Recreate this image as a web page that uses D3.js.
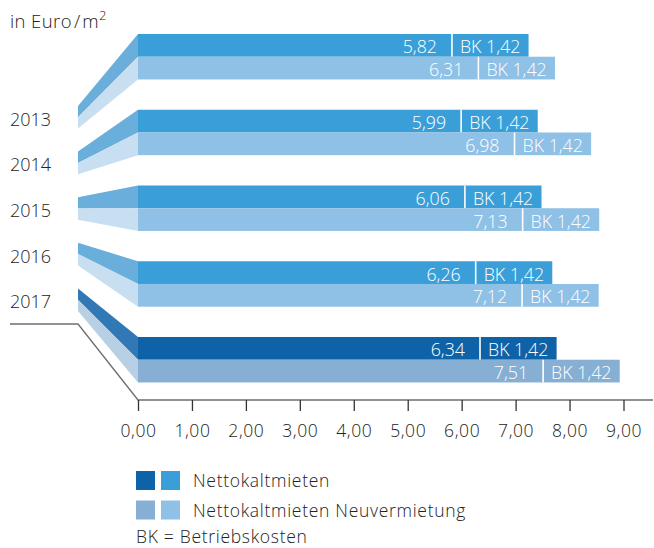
<!DOCTYPE html>
<html>
<head>
<meta charset="utf-8">
<script src="https://cdn.jsdelivr.net/npm/d3@7"></script>
<style>
  html, body { margin: 0; padding: 0; background: #fff; }
  svg { display: block; font-family: "Open Sans", sans-serif; font-weight: 300; }
</style>
</head>
<body>
<svg id="chart" width="654" height="548"></svg>
<script>
const years = ["2013", "2014", "2015", "2016", "2017"];
const netto = [5.82, 5.99, 6.06, 6.26, 6.34];
const neuvermietung = [6.31, 6.98, 7.13, 7.12, 7.51];
const bk = [1.42, 1.42, 1.42, 1.42, 1.42];
const tickValues = [0, 1, 2, 3, 4, 5, 6, 7, 8, 9];
const legendLabels = ["Nettokaltmieten", "Nettokaltmieten Neuvermietung"];

const colors = {
  bar1: "#3a9fd8", bar2: "#8fc0e6", conn1: "#6aaedc", conn2: "#c8dff2",
  hBar1: "#0e63a8", hBar2: "#86afd3", hConn1: "#3079b6", hConn2: "#b7d0e5"
};
const fmt = v => d3.format(".2f")(v).replace(".", ",");
const FONT = "'Open Sans', sans-serif";

const svg = d3.select("#chart");
const x = d3.scaleLinear().domain([0, 9]).range([138, 623.5]);
const y = d3.scaleBand().domain(years).range([34, 382.45]).paddingInner(0.4).paddingOuter(0);
const yl = d3.scaleBand().domain(years).range([106, 311]).paddingInner(0.504).paddingOuter(0);
const bh = y.bandwidth() / 2;
const lh = yl.bandwidth() / 2;
const connX = 78;

// year labels
svg.append("g").selectAll("text").data(years).join("text")
  .attr("x", 10).attr("y", d => yl(d) + lh + 8.5)
  .attr("font-size", 18).attr("fill", "#222").text(d => d);

// unit label
const unit = svg.append("text").attr("x", 10).attr("y", 28).attr("font-size", 18.5)
  .attr("letter-spacing", 0.4).attr("fill", "#222");
unit.append("tspan").text("in Euro");
unit.append("tspan").attr("dx", 2).text("/");
unit.append("tspan").attr("dx", 1.5).text("m");
unit.append("tspan").attr("font-size", 13).attr("dy", -8).text("2");

// baseline / axis guide line
svg.append("path")
  .attr("d", `M10,324 L${connX},324 L${x(0)},400 L653,400`)
  .attr("fill", "none").attr("stroke", "#6e6e6e").attr("stroke-width", 1.3);

const groups = svg.append("g").selectAll("g").data(years).join("g");

groups.each(function(yr, i) {
  const g = d3.select(this);
  const hi = i === years.length - 1;
  const c1 = hi ? colors.hBar1 : colors.bar1, c2 = hi ? colors.hBar2 : colors.bar2;
  const k1 = hi ? colors.hConn1 : colors.conn1, k2 = hi ? colors.hConn2 : colors.conn2;
  const bt = y(yr), lt = yl(yr), x0 = x(0);
  // connectors
  g.append("path").attr("fill", k1)
    .attr("d", `M${connX},${lt} L${x0},${bt} L${x0},${bt + bh} L${connX},${lt + lh} Z`);
  g.append("path").attr("fill", k2)
    .attr("d", `M${connX},${lt + lh} L${x0},${bt + bh} L${x0},${bt + 2 * bh} L${connX},${lt + 2 * lh} Z`);
  const rows = [
    { v: netto[i], b: bk[i], top: bt, c: c1 },
    { v: neuvermietung[i], b: bk[i], top: bt + bh, c: c2 }
  ];
  rows.forEach(r => {
    g.append("rect").attr("x", x0).attr("y", r.top).attr("width", x(r.v + r.b) - x0)
      .attr("height", bh).attr("fill", r.c);
    g.append("line").attr("x1", x(r.v)).attr("x2", x(r.v)).attr("y1", r.top).attr("y2", r.top + bh)
      .attr("stroke", "#fff").attr("stroke-width", 1.6);
    g.append("text").attr("x", x(r.v) - 15).attr("y", r.top + 19.3)
      .attr("text-anchor", "end").attr("font-size", 17.8)
      .attr("fill", "#fff").text(fmt(r.v));
    g.append("text").attr("x", x(r.v) + 8).attr("y", r.top + 19.3)
      .attr("font-size", 17.8).attr("fill", "#fff").text("BK " + fmt(r.b));
  });
});

// axis
const axis = d3.axisBottom(x).tickValues(tickValues).tickFormat(fmt).tickSize(11).tickPadding(14);
const ag = svg.append("g").attr("transform", "translate(0,400)").call(axis);
ag.select(".domain").remove();
ag.selectAll(".tick line").attr("stroke", "#333").attr("stroke-width", 1.3);
ag.selectAll(".tick text").attr("font-size", 17.5).attr("letter-spacing", 0.6).attr("fill", "#222")
  .attr("font-family", FONT).attr("font-weight", 300);

// legend
const leg = svg.append("g");
const legendColors = [[colors.hBar1, colors.bar1], [colors.hBar2, colors.bar2]];
legendLabels.forEach((lab, i) => {
  const yy = 471 + i * 29.5;
  leg.append("rect").attr("x", 136).attr("y", yy).attr("width", 19).attr("height", 19).attr("fill", legendColors[i][0]);
  leg.append("rect").attr("x", 161).attr("y", yy).attr("width", 19).attr("height", 19).attr("fill", legendColors[i][1]);
  leg.append("text").attr("x", 193).attr("y", yy + 16).attr("font-size", 17.5).attr("letter-spacing", 0.7)
    .attr("fill", "#222").text(lab);
});
leg.append("text").attr("x", 136).attr("y", 543).attr("font-size", 17.5).attr("letter-spacing", 0.7)
  .attr("fill", "#222").text("BK = Betriebskosten");
</script>
</body>
</html>
